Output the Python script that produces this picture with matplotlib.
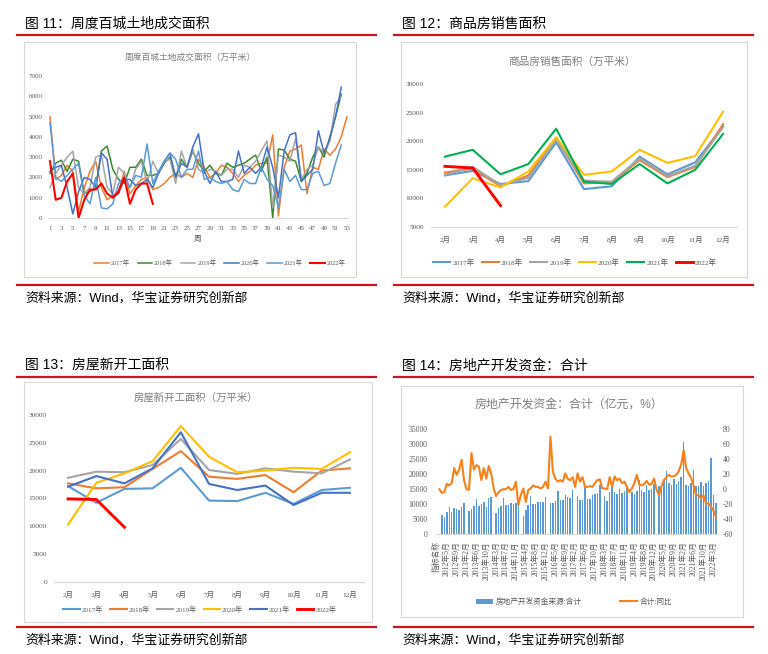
import numpy as np
import matplotlib
matplotlib.use("Agg")
import matplotlib.pyplot as plt
from matplotlib.lines import Line2D
from matplotlib.patches import Rectangle

W, H = 768, 654
RED = "#C8161D"; FRAME = "#D9D9D9"; TGRAY = "#7F7F7F"; TICK = "#595959"
SANS = ["Liberation Sans", "Noto Sans CJK SC"]
SERIF = ["Liberation Serif", "Noto Sans CJK SC"]
plt.rcParams["font.family"] = SANS
plt.rcParams["axes.unicode_minus"] = False

# ---------- fig 11: weekly land deals, 100 cities (10k m2) ----------
WEEKS = list(range(1, 54))
W17 = [5000,1900,2100,2600,2300,300,1500,2300,2800,1500,900,1100,1300,2300,1200,1600,1900,2000,1400,1500,
       1700,2000,2200,2000,2200,2000,2900,2500,2000,2200,2600,2500,2200,1800,2100,2300,2600,2700,2700,4100,
       100,2500,3300,3400,3600,1200,2500,2400,3400,3100,3400,4000,5000]
W18 = [2200,2700,2850,2300,2900,2800,1200,1300,1500,3300,3550,2400,1900,1700,2500,2500,2900,2100,2100,2200,
       2700,3000,2000,2900,2500,3300,2700,2300,2600,2200,2100,2700,2500,2600,2700,2900,3100,2300,3000,0,
       3400,3350,2900,2800,1800,2200,3000,3500,3000,4000,5000,6100]
W19 = [1500,2200,2600,3000,3300,1500,1200,1500,3000,3100,1500,1200,2500,2200,1500,2400,2800,1700,2800,2200,
       2800,2900,1700,3300,2500,3400,2400,2200,2400,2300,2100,2400,2400,2000,2600,2500,2800,3300,3800,500,
       3100,3000,2800,3900,1900,2400,2600,3500,3200,3800,5600,6000]
W20 = [2300,2500,2600,1500,200,1300,2000,1900,1500,3200,2900,1000,1200,1900,1900,1600,1700,1900,1500,2200,
       2800,3200,2000,2700,2500,3500,4150,2300,1700,2300,1800,1800,1900,3300,2200,2500,2200,2500,3500,2500,
       1000,3300,4100,4200,1800,2100,2400,4300,3200,3900,5000,6450]
W21 = [4700,2000,1800,2100,2400,2700,1100,700,2000,500,450,700,1700,2000,1500,2100,2000,3650,1700,2300,
       2800,3200,2900,2000,2400,2400,3300,1900,2000,1800,1700,1800,1400,1300,1900,1700,1700,2500,1900,1600,
       500,2400,1800,2100,1400,1400,2200,2300,1600,1700,2700,3600]
W22 = [2800,900,1000,1800,2200,0,900,1400,1400,1700,1200,1000,1300,2000,700,1400,1700,1700,700]

# ---------- fig 12: commodity housing sales area ----------
MONTHS = ["2月","3月","4月","5月","6月","7月","8月","9月","10月","11月","12月"]
S17 = [14000,14800,12500,13000,19800,11600,12100,17300,14200,16300,22600]
S18 = [14500,15200,12100,14000,20500,12600,12800,16700,13700,15500,23000]
S19 = [14100,15500,12300,13600,20300,13100,12900,17000,13900,15700,22500]
S20 = [8500,13500,11900,14700,20700,14100,14700,18500,16200,17400,25200]
S21 = [17300,18500,14200,16000,22200,12900,12500,16000,12600,15000,21300]
S22 = [15600,15300,8700]

# ---------- fig 13: new starts area ----------
N17 = [17200,14200,16700,16800,20500,14600,14500,16000,14000,16500,16900]
N18 = [17700,16800,17000,20300,23500,18900,18500,19200,16100,20000,20400]
N19 = [18700,19800,19700,21000,25700,20100,19400,20400,19800,19500,22000]
N20 = [10300,17800,19500,21700,28000,22500,19700,20000,20500,20300,23300]
N21 = [17100,19000,17700,20400,26900,17600,16500,17300,13800,16000,16000]
N22 = [14900,14800,9800]

# ---------- fig 14: development funds (100m yuan) and yoy (%) ----------
CATS = ["指标名称"] + [f"{y}年{m}月" for y in range(2012, 2023) for m in range(2, 13)][:113]
F_BARS = [np.nan,
    np.nan,6400,5700,7300,9000,7300,8700,8400,8100,9200,10500,
    np.nan,7900,8400,9400,11800,9400,10100,10700,9200,12000,12300,
    np.nan,7200,8700,9400,12000,9800,9800,10500,10100,10300,11700,
    np.nan,6100,8100,9700,12800,10200,10200,10700,10700,10900,12300,
    np.nan,10300,10300,11200,14400,11400,11400,12900,12300,12100,14600,
    np.nan,12600,11400,11400,16400,11800,11800,13000,13400,13800,16400,
    np.nan,12600,11200,14200,16800,13900,13400,15000,13800,14400,15800,
    np.nan,14000,13500,14500,18100,14600,14000,16400,14600,15200,16800,
    np.nan,15900,16400,17600,20900,17000,16400,18400,16700,17800,19200,
    30600,16400,15900,17000,21400,15900,15900,17300,15900,17000,17600,
    25300,12900,10300]
F_YOY = [np.nan,
    0,-5,-4,7,5,8,28,19,26,39,12,
    0,-1,48,26,32,30,12,28,14,31,21,
    1,-9,-4,-1,0,0,3,-1,0,10,-21,
    -8,1,-17,-1,1,5,3,3,1,3,10,
    1,70,23,14,10,12,10,21,14,12,16,
    3,21,10,16,3,3,4,3,8,12,13,
    1,1,0,16,3,17,12,14,8,10,3,
    -4,1,8,19,6,5,7,11,6,7,14,
    -1,-8,4,12,16,19,17,17,19,24,33,
    52,28,21,15,5,-8,-8,-12,-8,-19,-19,
    -23,-28,-36]

YEARS = ["2017年","2018年","2019年","2020年","2021年","2022年"]

fig = plt.figure(figsize=(W/100, H/100), dpi=100)
fig.patch.set_facecolor("white")

def fx(x): return x / W
def fy(y): return 1 - y / H

def add_ax(l, t, r, b):
    return fig.add_axes([fx(l), fy(b), (r - l) / W, (b - t) / H])

def hline(x1, x2, y, color=RED, lw=1.6):
    fig.add_artist(Line2D([fx(x1), fx(x2)], [fy(y), fy(y)], color=color, lw=lw))

def frame(l, t, r, b):
    fig.add_artist(Rectangle((fx(l), fy(b)), (r - l) / W, (b - t) / H, fill=False,
                             ec=FRAME, lw=0.8, transform=fig.transFigure))

def panel(x0, xr, ytop, ybot, head, box):
    fig.text(fx(x0 + 8), fy(ytop - 11), head, fontsize=10, family=SANS, va="center", ha="left", color="black")
    hline(x0, xr, ytop)
    frame(*box)
    hline(x0, xr, ybot)
    fig.text(fx(x0 + 8), fy(ybot + 13), "资料来源：Wind，华宝证券研究创新部", fontsize=9.3,
             family=SANS, va="center", ha="left", color="black")

def style(ax, fs=5):
    for s in ["top", "right", "left"]:
        ax.spines[s].set_visible(False)
    ax.spines["bottom"].set_color(FRAME)
    ax.spines["bottom"].set_linewidth(0.8)
    ax.tick_params(length=0, labelsize=fs, colors=TICK)
    for lab in ax.get_xticklabels() + ax.get_yticklabels():
        lab.set_family(SERIF)
    ax.set_facecolor("none")

def legend(ax, cx, cy, fs=5, hl=2.2, cs=1.0):
    leg = ax.legend(loc="center", bbox_to_anchor=(fx(cx), fy(cy)), bbox_transform=fig.transFigure,
                    ncol=6, frameon=False, handlelength=hl, columnspacing=cs,
                    handletextpad=0.3, prop={"family": SERIF, "size": fs})
    for t in leg.get_texts():
        t.set_color(TICK)

# ---- panel 1 ----
panel(17, 376, 34.7, 285, "图 11：周度百城土地成交面积", (24, 42, 356, 277))
ax1 = add_ax(48, 76, 348, 218)
c1 = ["#ED7D31", "#3A8A2E", "#A5A5A5", "#4472C4", "#5B9BD5", "#FF0000"]
for s, c, lab in zip([W17, W18, W19, W20, W21, W22], c1, YEARS):
    ax1.plot(WEEKS[:len(s)], s, color=c, lw=1.5 if lab == "2022年" else 1.1, label=lab)
ax1.set_xlim(0.65, 53.18); ax1.set_ylim(0, 7000)
ax1.set_xticks(WEEKS[::2]); ax1.set_yticks(range(0, 7001, 1000))
ax1.tick_params(axis="x", pad=6); ax1.tick_params(axis="y", pad=4)
style(ax1)
ax1.set_xlabel("周", fontsize=5.5, color=TICK, labelpad=3)
fig.text(fx(190), fy(58), "周度百城土地成交面积（万平米）", fontsize=6.3, color=TGRAY, ha="center", va="center",
         family=SERIF)
legend(ax1, 220, 263, fs=4.6, hl=2.3, cs=1.2)

# ---- panel 2 ----
panel(394, 753, 34.7, 285, "图 12：商品房销售面积", (401, 42, 747, 277))
ax2 = add_ax(431, 84.3, 737, 226.7)
c2 = ["#5B9BD5", "#ED7D31", "#A5A5A5", "#FFC000", "#00B050", "#FF0000"]
x2 = np.arange(len(MONTHS))
for s, c, lab in zip([S17, S18, S19, S20, S21, S22], c2, YEARS):
    ax2.plot(x2[:len(s)], s, color=c, lw=2.1 if lab == "2022年" else 1.5, label=lab)
ax2.set_xlim(-0.5, 10.5); ax2.set_ylim(5000, 30000)
ax2.set_xticks(x2); ax2.set_xticklabels(MONTHS)
ax2.set_yticks(range(5000, 30001, 5000))
ax2.tick_params(axis="x", pad=7); ax2.tick_params(axis="y", pad=5)
style(ax2, 5.3)
fig.text(fx(572), fy(62), "商品房销售面积（万平米）", fontsize=7.7, color=TGRAY, ha="center", va="center")
legend(ax2, 575, 262, fs=5.3, hl=2.3, cs=1.0)

# ---- panel 3 ----
panel(17, 376, 376.7, 627, "图 13：房屋新开工面积", (24, 382, 372, 622))
ax3 = add_ax(54, 415, 364, 581.7)
c3 = ["#5B9BD5", "#ED7D31", "#A5A5A5", "#FFC000", "#4472C4", "#FF0000"]
for s, c, lab in zip([N17, N18, N19, N20, N21, N22], c3, YEARS):
    ax3.plot(x2[:len(s)], s, color=c, lw=2.1 if lab == "2022年" else 1.5, label=lab)
ax3.set_xlim(-0.5, 10.5); ax3.set_ylim(0, 30000)
ax3.set_xticks(x2); ax3.set_xticklabels(MONTHS)
ax3.set_yticks(range(0, 30001, 5000))
ax3.tick_params(axis="x", pad=7); ax3.tick_params(axis="y", pad=5)
style(ax3, 5.3)
fig.text(fx(196), fy(398), "房屋新开工面积（万平米）", fontsize=7.5, color=TGRAY, ha="center", va="center")
legend(ax3, 200, 609, fs=5.1, hl=2.3, cs=1.0)

# ---- panel 4 ----
panel(394, 753, 376.7, 627, "图 14：房地产开发资金：合计", (401, 386, 743, 617))
ax4 = add_ax(435.7, 429, 717, 534.3)
x4 = np.arange(len(CATS))
ax4.bar(x4, F_BARS, width=0.6, color="#5B9BD5", label="房地产开发资金来源:合计")
ax4.set_xlim(-0.5, len(CATS) - 0.5); ax4.set_ylim(0, 35000)
ax4.set_yticks(range(0, 35001, 5000))
ax4.set_xticks(x4[::4]); ax4.set_xticklabels(CATS[::4], rotation=90)
ax4.tick_params(axis="y", pad=6); ax4.tick_params(axis="x", pad=5)
style(ax4, 5.6)
ax4r = ax4.twinx()
ax4r.plot(x4, F_YOY, color="#F7821B", lw=1.5, label="合计:同比")
ax4r.set_ylim(-60, 80); ax4r.set_yticks(range(-60, 81, 20))
for s in ["top", "left", "bottom", "right"]:
    ax4r.spines[s].set_visible(False)
ax4r.tick_params(length=0, labelsize=5.6, colors=TICK, pad=4)
for lab in ax4r.get_yticklabels():
    lab.set_family(SERIF)
for lab in ax4.get_xticklabels():
    lab.set_fontsize(5.6)
fig.text(fx(569), fy(405), "房地产开发资金：合计（亿元，%）", fontsize=8.6, color=TGRAY, ha="center", va="center")
h1, l1 = ax4.get_legend_handles_labels(); h2, l2 = ax4r.get_legend_handles_labels()
leg = ax4r.legend(h1 + h2, l1 + l2, loc="center", bbox_to_anchor=(fx(574), fy(602)),
                  bbox_transform=fig.transFigure, ncol=2, frameon=False, fontsize=5.5,
                  handlelength=2.2, columnspacing=5, handletextpad=0.4)
for t in leg.get_texts():
    t.set_color(TICK)

fig.savefig("out.png", dpi=100)
